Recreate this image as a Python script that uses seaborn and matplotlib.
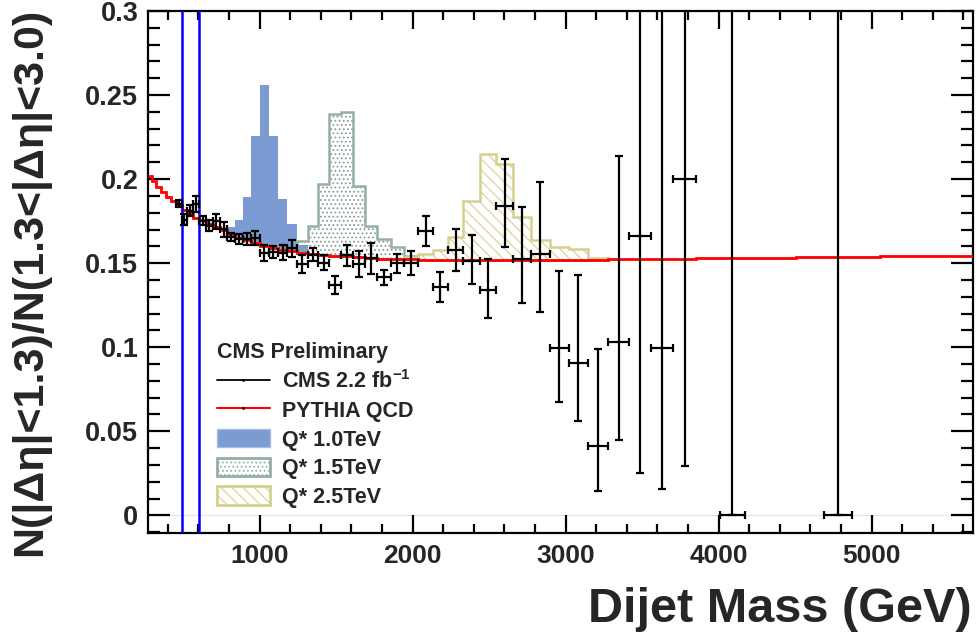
import numpy as np
import matplotlib
matplotlib.use("Agg")
import matplotlib.pyplot as plt
import seaborn as sns
from matplotlib.lines import Line2D
from matplotlib.patches import Patch
from matplotlib.ticker import MultipleLocator, FuncFormatter

# dijet mass bin edges (GeV)
bin_edges = [270, 296, 325, 354, 386, 419, 453, 489, 526, 565, 606, 649, 693, 740, 788,
             838, 890, 944, 1000, 1058, 1118, 1181, 1246, 1313, 1383, 1455, 1530, 1607,
             1687, 1770, 1856, 1945, 2037, 2132, 2231, 2332, 2438, 2546, 2659, 2775, 2895,
             3019, 3147, 3279, 3416, 3558, 3704, 3854, 4010, 4171, 4337, 4509, 4686, 4869,
             5058, 5253, 5455, 5663]

# PYTHIA QCD ratio per bin
qcd = [0.2020, 0.1986, 0.1956, 0.1923, 0.1893, 0.1867, 0.1847, 0.1817, 0.1800, 0.1768,
       0.1754, 0.1734, 0.1718, 0.1698, 0.1668, 0.1649, 0.1635, 0.1620, 0.1600, 0.1590,
       0.1580, 0.1570, 0.1560, 0.1555, 0.1550, 0.1545, 0.1540, 0.1535, 0.1530, 0.1527,
       0.1524, 0.1522, 0.1520, 0.1520, 0.1518, 0.1518, 0.1517, 0.1517, 0.1517, 0.1518,
       0.1519, 0.1520, 0.1521, 0.1522, 0.1523, 0.1525, 0.1526, 0.1528, 0.1530, 0.1531,
       0.1533, 0.1535, 0.1537, 0.1539, 0.1541, 0.1543, 0.1545]

# Q* signals (QCD + signal), first bin edge and values
q10_start = 788
q10 = [0.1718, 0.1754, 0.1896, 0.2254, 0.2561, 0.2254, 0.1881, 0.1734, 0.1609]
q15_start = 1246
q15 = [0.1629, 0.1722, 0.1972, 0.2389, 0.2402, 0.1960, 0.1722, 0.1643, 0.1599, 0.1545]
q25_start = 1856
q25 = [0.1527, 0.1535, 0.1554, 0.1579, 0.1658, 0.1871, 0.2151, 0.2089, 0.1777, 0.1639,
       0.1595, 0.1583, 0.1533]

# CMS data: bin low/high edge, ratio, errors
data_lo = [453, 489, 526, 565, 606, 649, 693, 740, 788, 838, 890, 944, 1000, 1058, 1118,
           1181, 1246, 1313, 1383, 1455, 1530, 1607, 1687, 1770, 1856, 1945, 2037, 2132,
           2231, 2332, 2438, 2546, 2659, 2775, 2895, 3019, 3147, 3279, 3416, 3558, 3704,
           4010, 4686]
data_hi = [489, 526, 565, 606, 649, 693, 740, 788, 838, 890, 944, 1000, 1058, 1118, 1181,
           1246, 1313, 1383, 1455, 1530, 1607, 1687, 1770, 1856, 1945, 2037, 2132, 2231,
           2332, 2438, 2546, 2659, 2775, 2895, 3019, 3147, 3279, 3416, 3558, 3704, 3854,
           4171, 4869]
data_y = [0.1853, 0.1758, 0.1813, 0.1853, 0.1752, 0.1724, 0.1748, 0.1702, 0.1655, 0.1643,
          0.1643, 0.1649, 0.1560, 0.1565, 0.1563, 0.1589, 0.1494, 0.1550, 0.1504, 0.1371,
          0.1546, 0.1494, 0.1528, 0.1415, 0.1500, 0.1500, 0.1690, 0.1358, 0.1580, 0.1512,
          0.1340, 0.1838, 0.1522, 0.1555, 0.0998, 0.0909, 0.0415, 0.1034, 0.1664, 0.0998,
          0.2000, 0.0, 0.0]
err_lo = [0.0020, 0.0032, 0.0035, 0.0049, 0.0026, 0.0035, 0.0043, 0.0045, 0.0025, 0.0028,
          0.0037, 0.0043, 0.0047, 0.0035, 0.0045, 0.0050, 0.0055, 0.0040, 0.0045, 0.0054,
          0.0065, 0.0077, 0.0090, 0.0045, 0.0057, 0.0073, 0.0090, 0.0090, 0.0124, 0.0138,
          0.0164, 0.0240, 0.0257, 0.0346, 0.0322, 0.0350, 0.0273, 0.0583, 0.1413, 0.0840,
          0.1704, 0.0, 0.0]
err_hi = [0.0020, 0.0032, 0.0035, 0.0049, 0.0026, 0.0035, 0.0043, 0.0045, 0.0025, 0.0028,
          0.0037, 0.0043, 0.0047, 0.0035, 0.0045, 0.0050, 0.0055, 0.0040, 0.0045, 0.0054,
          0.0065, 0.0077, 0.0090, 0.0045, 0.0057, 0.0073, 0.0090, 0.0090, 0.0125, 0.0158,
          0.0186, 0.0280, 0.0310, 0.0430, 0.0454, 0.0520, 0.0573, 0.1106, 0.2500, 0.2500,
          0.2500, 0.4000, 0.4000]

# vertical blue lines
cut_lines = [489, 606]

sns.set_theme(style="ticks")
plt.rcParams['font.family'] = ['Liberation Sans', 'DejaVu Sans']
plt.rcParams['font.weight'] = 'bold'
plt.rcParams['mathtext.fontset'] = 'custom'
plt.rcParams['mathtext.rm'] = 'Liberation Sans:bold'
plt.rcParams['mathtext.default'] = 'rm'
plt.rcParams['hatch.linewidth'] = 0.8

fig = plt.figure(figsize=(9.78, 6.39), dpi=100)
ax = fig.add_axes([148/978, 1-533/639, 825/978, 522/639])

edges = np.array(bin_edges)
qcd = np.array(qcd)

def sig_edges(start, vals):
    i = bin_edges.index(start)
    return edges[i:i+len(vals)+1], qcd[i:i+len(vals)]

blue = '#7b9bd2'
green = '#93b0a6'
yellow = '#d6d08e'

e, b = sig_edges(q10_start, q10)
ax.stairs(q10, e, baseline=b, fill=True, color=blue, lw=0, zorder=1)
e, b = sig_edges(q15_start, q15)
ax.stairs(q15, e, baseline=b, fill=True, facecolor='none', edgecolor='#8a9c96', hatch='....', lw=0, zorder=2)
ax.stairs(q15, e, baseline=b, fill=False, color=green, lw=1.8, zorder=2)
e, b = sig_edges(q25_start, q25)
ax.stairs(q25, e, baseline=b, fill=True, facecolor='none', edgecolor=yellow, hatch='\\\\\\', lw=0, zorder=2)
ax.stairs(q25, e, baseline=b, fill=False, color=yellow, lw=1.8, zorder=2)

ax.stairs(qcd, edges, baseline=None, color='red', lw=2, zorder=3)

ax.axhline(0, color='#e4e4e4', lw=0.8, zorder=0)
for c in cut_lines:
    ax.axvline(c, color='blue', lw=1.8, zorder=3)

lo = np.array(data_lo)
hi = np.array(data_hi)
xc = (lo + hi) / 2
ax.errorbar(xc, data_y, xerr=[xc - lo, hi - xc], yerr=[err_lo, err_hi], fmt='none',
            ecolor='black', elinewidth=1.6, capsize=3, capthick=1.6, zorder=4)

ax.set_xlim(270, 5663)
ax.set_ylim(-0.0105, 0.3)
ax.xaxis.set_major_locator(MultipleLocator(1000))
ax.xaxis.set_minor_locator(MultipleLocator(200))
ax.yaxis.set_major_locator(MultipleLocator(0.05))
ax.yaxis.set_minor_locator(MultipleLocator(0.01))
ax.yaxis.set_major_formatter(FuncFormatter(lambda v, p: '%g' % round(v, 3)))
ax.tick_params(which='both', direction='in', top=True, right=True, width=1.6, color='black')
ax.tick_params(axis='x', which='major', length=13, labelsize=19, pad=8)
ax.tick_params(axis='x', which='minor', length=6.5)
ax.tick_params(axis='y', which='major', length=16, labelsize=19.5, pad=7)
ax.tick_params(axis='y', which='minor', length=8.5)
for lab in ax.get_xticklabels() + ax.get_yticklabels():
    lab.set_fontweight('bold')
for s in ax.spines.values():
    s.set_linewidth(1.6)
    s.set_color('black')
ax.set_xlabel('')
ax.set_ylabel('')

fig.text(972/978, 1-610/639, 'Dijet Mass (GeV)', ha='right', va='center', fontsize=35, fontweight='bold')
fig.text(30/978, 1-282/639, 'N(|Δη|<1.3)/N(1.3<|Δη|<3.0)', ha='center', va='center',
         rotation=90, fontsize=31, fontweight='bold')

handles = [
    Line2D([], [], color='black', lw=1.3, marker='.', markersize=2),
    Line2D([], [], color='red', lw=1.5, marker='.', markersize=2, markerfacecolor='black', markeredgecolor='black'),
    Patch(facecolor=blue, edgecolor='#a9bde3', lw=1),
    Patch(facecolor='white', edgecolor=green, hatch='....', lw=2),
    Patch(facecolor='white', edgecolor=yellow, hatch='\\\\\\', lw=2),
]
labels = ['CMS 2.2 fb$^{-1}$', 'PYTHIA QCD', 'Q* 1.0TeV', 'Q* 1.5TeV', 'Q* 2.5TeV']
leg = ax.legend(handles, labels, title='CMS Preliminary', loc='upper left',
                bbox_to_anchor=(217/978, 1-342/639), bbox_transform=fig.transFigure,
                frameon=False, prop={'size': 15.5, 'weight': 'bold'},
                title_fontproperties={'size': 15.5, 'weight': 'bold'},
                handlelength=2.45, handleheight=0.95, labelspacing=0.33,
                handletextpad=0.55, borderpad=0, borderaxespad=0, alignment='left')
leg.set_zorder(5)

fig.savefig('out.png', dpi=100)
